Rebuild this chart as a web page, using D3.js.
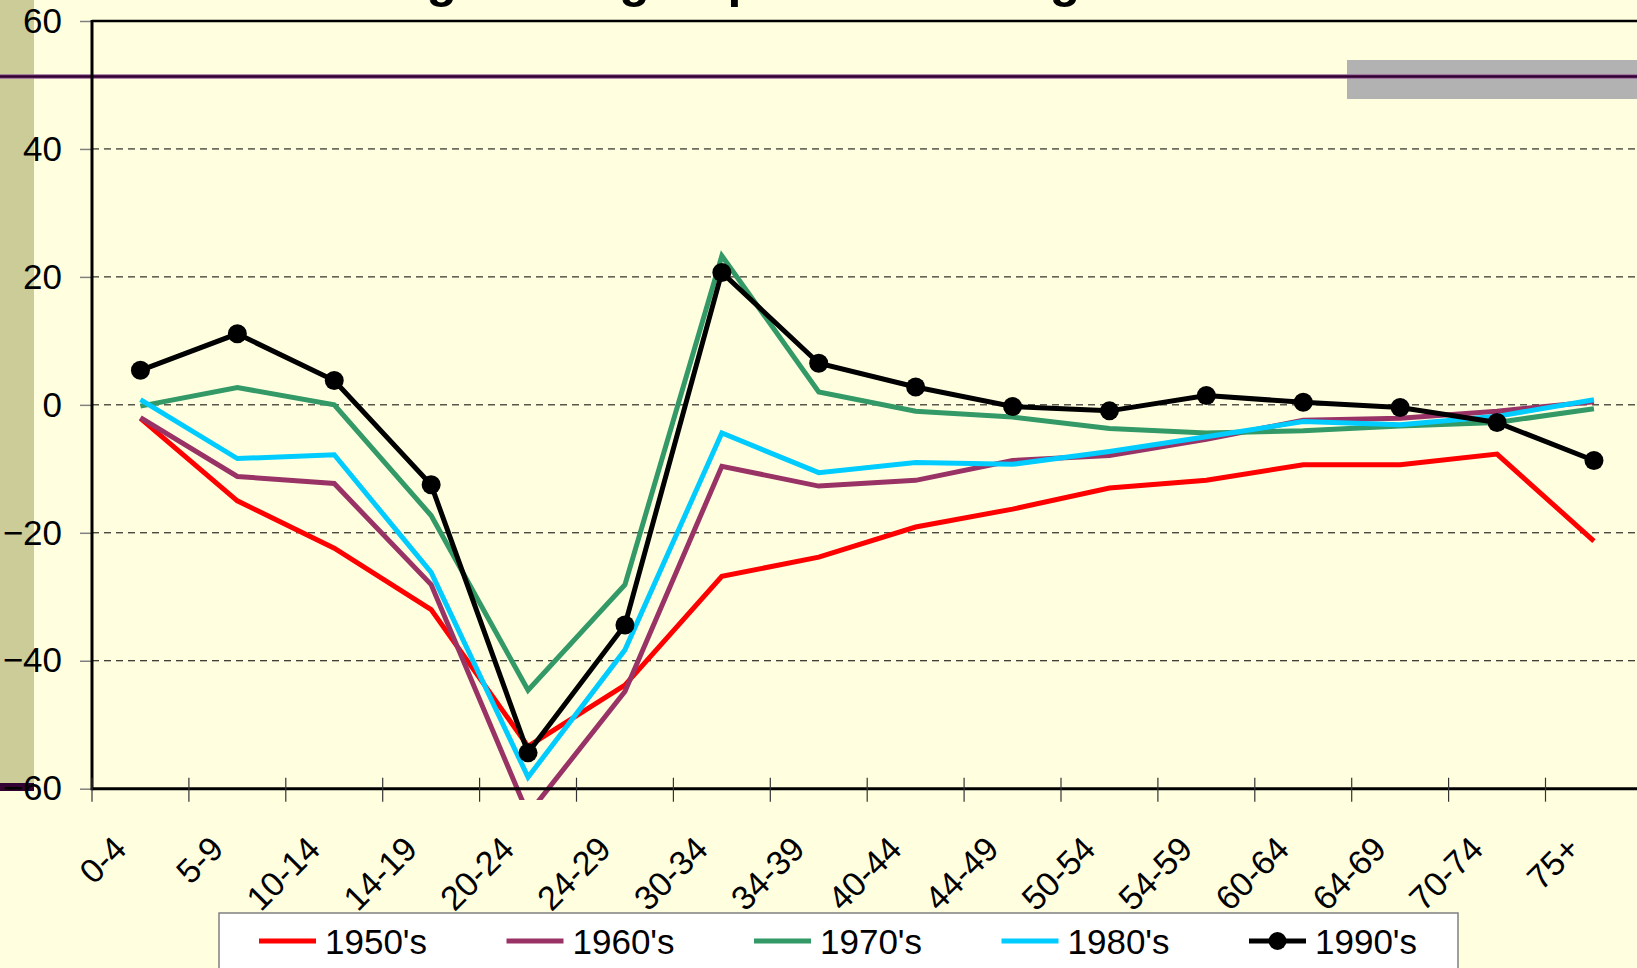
<!DOCTYPE html>
<html><head><meta charset="utf-8">
<script src="https://cdn.jsdelivr.net/npm/d3@7"></script>
<style>html,body{margin:0;padding:0;background:#FFFFE0;overflow:hidden}svg{display:block}text{font-family:"Liberation Sans",Arial,sans-serif}</style>
</head><body>
<script>
const categories = ["0-4","5-9","10-14","14-19","20-24","24-29","30-34","34-39","40-44","44-49","50-54","54-59","60-64","64-69","70-74","75+"];
const s1950 = [-2.1,-15,-22.4,-32,-53.4,-43.8,-26.8,-23.8,-19.1,-16.3,-13.0,-11.8,-9.35,-9.35,-7.7,-21.3];
const s1960 = [-2.0,-11.2,-12.3,-28.1,-64,-44.8,-9.6,-12.7,-11.8,-8.7,-7.9,-5.4,-2.4,-2.1,-1.0,0.5];
const s1970 = [-0.2,2.7,0,-17.3,-44.6,-28.1,23.3,2.0,-1.0,-1.9,-3.7,-4.4,-4.05,-3.3,-2.75,-0.6];
const s1980 = [0.8,-8.4,-7.8,-26.2,-58.2,-38.3,-4.4,-10.6,-9.0,-9.3,-7.3,-5.0,-2.6,-3.1,-1.8,0.8];
const s1990 = [5.4,11.1,3.8,-12.5,-54.4,-34.4,20.7,6.5,2.8,-0.26,-0.94,1.45,0.4,-0.4,-2.75,-8.7];
const seriesNames = ["1950's","1960's","1970's","1980's","1990's"];
const seriesColors = ["#FF0000","#993366","#339966","#00CCFF","#000000"];
const yTicks = [60,40,20,0,-20,-40,-60];
const gridTicks = [40,20,0,-20,-40];
const titleText = "Changes in Age-Specific Net Migration Rates";

(function(){
const seriesData = [s1950,s1960,s1970,s1980,s1990];
const W = 1637, H = 968;
const svg = d3.select("body").append("svg").attr("width",W).attr("height",H);
svg.append("rect").attr("width",W).attr("height",H).attr("fill","#FFFFE0");

const pLeft = 92, pTop = 21, pBottom = 788.7;
const x = d3.scaleBand().domain(categories).range([pLeft, pLeft + 16*96.9]).padding(0);
const y = d3.scaleLinear().domain([-60,60]).range([pBottom, pTop]);

svg.append("rect").attr("x",0).attr("y",0).attr("width",34).attr("height",783).attr("fill","#CCCC99");

svg.append("text").attr("x",301.5).attr("y",-3.5).attr("text-anchor","start")
  .attr("font-size",50).attr("font-weight","bold").attr("fill","#000").text(titleText);

svg.append("g").selectAll("line").data(gridTicks).join("line")
  .attr("x1",pLeft).attr("x2",W).attr("y1",d=>y(d)).attr("y2",d=>y(d))
  .attr("stroke","#000").attr("stroke-width",1).attr("stroke-dasharray","7,5");

svg.append("rect").attr("x",1347).attr("y",60).attr("width",W-1347).attr("height",39).attr("fill","#B2B2B2");
svg.append("line").attr("x1",0).attr("x2",W).attr("y1",76.5).attr("y2",76.5).attr("stroke","#996699").attr("stroke-width",4.5);
svg.append("line").attr("x1",0).attr("x2",W).attr("y1",76.5).attr("y2",76.5).attr("stroke","#330033").attr("stroke-width",2.5);

svg.append("rect").attr("x",0).attr("y",783).attr("width",34).attr("height",8).attr("fill","#330033");

const yAxis = d3.axisLeft(y).tickValues(yTicks).tickSize(12).tickPadding(18).tickFormat(d3.format("d"));
const gy = svg.append("g").attr("transform",`translate(${pLeft},0)`).call(yAxis);
gy.select(".domain").remove();
gy.selectAll(".tick line").attr("stroke","#808080").attr("stroke-width",1.5);
gy.selectAll(".tick text").attr("font-size",35).attr("fill","#000").attr("font-family","Liberation Sans, Arial, sans-serif");

svg.append("line").attr("x1",pLeft).attr("x2",W).attr("y1",pTop).attr("y2",pTop).attr("stroke","#000").attr("stroke-width",2.5);

svg.append("clipPath").attr("id","clip").append("rect").attr("x",pLeft).attr("y",0).attr("width",W).attr("height",800);

const line = d3.line().x((d,i)=>x(categories[i])+x.bandwidth()/2).y(d=>y(d));
const gl = svg.append("g").attr("clip-path","url(#clip)");
seriesData.forEach((s,k)=>{
  gl.append("path").datum(s).attr("d",line).attr("fill","none")
    .attr("stroke",seriesColors[k]).attr("stroke-width",5).attr("stroke-linejoin","miter");
});
gl.append("g").selectAll("circle").data(s1990).join("circle")
  .attr("cx",(d,i)=>x(categories[i])+x.bandwidth()/2).attr("cy",d=>y(d)).attr("r",9.5).attr("fill","#000");

svg.append("line").attr("x1",pLeft).attr("x2",pLeft).attr("y1",pTop-1).attr("y2",pBottom+1.5).attr("stroke","#000").attr("stroke-width",3);
const xAxis = d3.axisBottom(x).tickSize(0).tickFormat("");
const gx = svg.append("g").attr("transform",`translate(0,${pBottom})`).call(xAxis);
gx.select(".domain").remove();
svg.append("line").attr("x1",pLeft).attr("x2",W).attr("y1",pBottom).attr("y2",pBottom).attr("stroke","#000").attr("stroke-width",3);
const bounds = categories.map(c=>x(c)).concat([x.range()[1]]);
svg.append("g").selectAll("line").data(bounds).join("line")
  .attr("x1",d=>d).attr("x2",d=>d).attr("y1",pBottom-11).attr("y2",pBottom+13)
  .attr("stroke","#333").attr("stroke-width",1.2);

svg.append("g").selectAll("text").data(categories).join("text")
  .attr("transform",d=>`translate(${x(d)+x.bandwidth()/2-12},851) rotate(-45)`)
  .attr("text-anchor","end").attr("font-size",34).attr("fill","#000").text(d=>d);

const lg = svg.append("g");
lg.append("rect").attr("x",219).attr("y",913).attr("width",1239).attr("height",70)
  .attr("fill","#FFFFFF").attr("stroke","#808080").attr("stroke-width",1.5);
seriesNames.forEach((n,i)=>{
  const x0 = 259 + i*247.5;
  lg.append("line").attr("x1",x0).attr("x2",x0+57).attr("y1",941).attr("y2",941)
    .attr("stroke",seriesColors[i]).attr("stroke-width",5);
  if(i===4) lg.append("circle").attr("cx",x0+28.5).attr("cy",941).attr("r",9).attr("fill","#000");
  lg.append("text").attr("x",x0+66).attr("y",954).attr("font-size",35).attr("fill","#000").text(n);
});
})();
</script>
</body></html>
